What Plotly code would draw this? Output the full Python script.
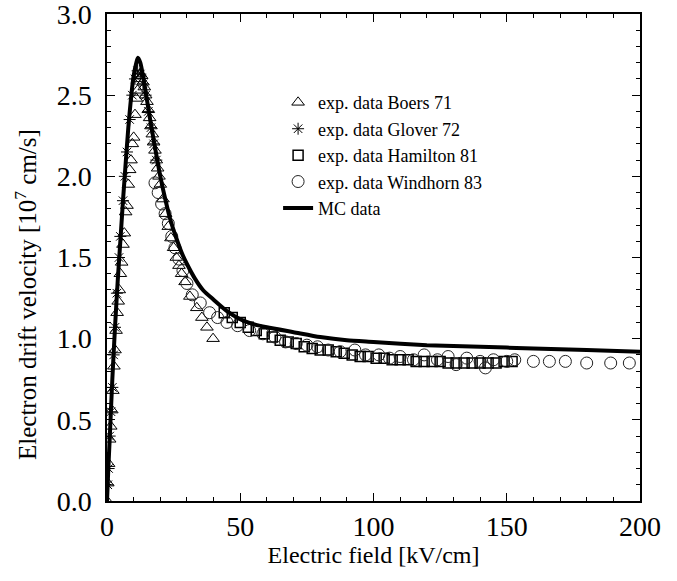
import plotly.graph_objects as go

# MC simulation curve
mc_x = [0, 0.5, 1, 2, 3, 4, 5, 6, 7, 8, 9, 10, 11, 11.6, 12.5, 13.5, 15, 16.5, 18, 20,
        22, 24, 26, 28, 30, 33, 36, 40, 45, 50, 55, 60, 70, 80, 90, 100, 120, 140, 160, 180, 200]
mc_y = [0, 0.2, 0.38, 0.75, 1.07, 1.35, 1.6, 1.85, 2.08, 2.3, 2.48, 2.62, 2.7, 2.73, 2.7, 2.62, 2.47, 2.32, 2.18, 2.0,
        1.85, 1.72, 1.62, 1.53, 1.46, 1.37, 1.3, 1.24, 1.17, 1.12, 1.09, 1.07, 1.04, 1.01, 0.99, 0.98, 0.96, 0.95, 0.94, 0.93, 0.92]

# Boers 71 (triangles)
boers_x = [0, 0.3, 0.6, 1.0, 1.4, 1.8, 2.2, 2.6, 3.0, 3.4, 3.8, 4.2, 4.6, 5.0, 5.5, 6.0, 6.5, 7.0, 7.5, 8.0,
           8.5, 9.0, 9.5, 10.0, 10.5, 11.0, 11.5, 12.0, 12.5, 13.0, 13.5, 14.0, 14.5, 15.0, 15.5, 16.0, 16.5,
           17.0, 17.5, 18.0, 18.5, 19.0, 19.5, 20.0, 21.0, 22.0, 23.0, 24.0, 25.0, 26.0, 27.0, 28.0, 29.3,
           31.1, 33.7, 35.6, 37.5, 39.8]
boers_y = [0.0, 0.11, 0.23, 0.38, 0.46, 0.56, 0.68, 0.83, 0.93, 1.05, 1.16, 1.23, 1.30, 1.40, 1.47, 1.58, 1.65,
           1.78, 1.82, 1.95, 2.04, 2.10, 2.20, 2.24, 2.38, 2.48, 2.53, 2.60, 2.63, 2.62, 2.58, 2.55, 2.50, 2.46,
           2.41, 2.36, 2.31, 2.26, 2.21, 2.16, 2.10, 2.05, 2.00, 1.95, 1.86, 1.77, 1.69, 1.62, 1.56, 1.50, 1.45,
           1.40, 1.35, 1.26, 1.19, 1.13, 1.07, 1.00]

# Glover 72 (asterisks)
glover_x = [0.3, 0.6, 1.0, 1.5, 2.0, 2.5, 3.0, 3.7, 4.5, 5.0, 6.0, 6.7, 7.5, 8.5, 9.5, 10.5, 11.5, 12.5,
            13.5, 14.5, 15.5, 16.5, 17.5, 18.5]
glover_y = [0.1, 0.2, 0.4, 0.55, 0.7, 0.9, 1.07, 1.28, 1.5, 1.63, 1.85, 2.0, 2.15, 2.35, 2.5, 2.6, 2.65, 2.63,
            2.57, 2.5, 2.4, 2.3, 2.2, 2.1]

# Hamilton 81 (squares)
hamilton_x = [44, 47, 50, 53, 56, 59, 62, 65, 68, 71, 74, 77, 80, 83, 86, 89, 92, 95, 98, 101, 104, 107,
              110, 113, 116, 119, 122, 125, 128, 131, 134, 137, 140, 143, 146, 149, 152]
hamilton_y = [1.16, 1.13, 1.10, 1.07, 1.05, 1.03, 1.01, 0.99, 0.98, 0.97, 0.95, 0.94, 0.93, 0.93, 0.92, 0.91,
              0.90, 0.89, 0.89, 0.88, 0.88, 0.87, 0.87, 0.87, 0.86, 0.86, 0.86, 0.86, 0.85, 0.85, 0.85, 0.85,
              0.85, 0.85, 0.85, 0.86, 0.86]

# Windhorn 83 (circles)
windhorn_x = [18, 19.2, 20.5, 21.8, 23, 24.3, 25.5, 27, 28.5, 30, 32, 35, 38.5, 41.5, 45, 49, 53.5, 58.5,
              63, 67, 71, 75, 79, 83, 87.5, 93, 97, 102, 106, 110, 115, 119, 124, 128, 131, 135, 140, 142,
              145, 150, 153, 160, 166, 172, 180, 189, 196]
windhorn_y = [1.96, 1.90, 1.83, 1.77, 1.71, 1.63, 1.56, 1.49, 1.42, 1.34, 1.27, 1.22, 1.16, 1.13, 1.10, 1.08,
              1.05, 1.03, 1.01, 0.98, 0.97, 0.96, 0.95, 0.93, 0.92, 0.93, 0.90, 0.90, 0.88, 0.89, 0.87, 0.90,
              0.87, 0.89, 0.84, 0.88, 0.86, 0.82, 0.87, 0.86, 0.87, 0.86, 0.86, 0.86, 0.85, 0.85, 0.85]

y_title = "Electron drift velocity [10<sup>7</sup> cm/s]"
x_title = "Electric field [kV/cm]"

FONT = "Liberation Serif, Times New Roman, serif"

fig = go.Figure()
fig.add_trace(go.Scatter(x=boers_x, y=boers_y, mode="markers", name="exp. data Boers 71",
                         marker=dict(symbol="triangle-up-open", color="black", size=11,
                                     line=dict(color="black", width=1))))
fig.add_trace(go.Scatter(x=glover_x, y=glover_y, mode="markers", name="exp. data Glover 72",
                         marker=dict(symbol="asterisk-open", color="black", size=10,
                                     line=dict(color="black", width=1))))
fig.add_trace(go.Scatter(x=hamilton_x, y=hamilton_y, mode="markers", name="exp. data Hamilton 81",
                         marker=dict(symbol="square-open", color="black", size=10,
                                     line=dict(color="black", width=1.5))))
fig.add_trace(go.Scatter(x=windhorn_x, y=windhorn_y, mode="markers", name="exp. data Windhorn 83",
                         marker=dict(symbol="circle-open", color="#222", size=12,
                                     line=dict(color="#222", width=1))))
fig.add_trace(go.Scatter(x=mc_x, y=mc_y, mode="lines", name="MC data",
                         line=dict(color="black", width=4, shape="spline", smoothing=0.6)))

axis_common = dict(showline=True, linecolor="black", linewidth=1.5, mirror="ticks",
                   ticks="inside", ticklen=8, tickwidth=1.2, tickcolor="black",
                   showgrid=False, zeroline=False, automargin=False,
                   ticklabeloverflow="allow",
                   tickfont=dict(family=FONT, size=28, color="black"))
fig.update_xaxes(range=[0, 200], dtick=50, tick0=0,
                 minor=dict(dtick=10, ticks="inside", ticklen=4, tickcolor="black", tickwidth=1),
                 title=dict(text=x_title, font=dict(family=FONT, size=24, color="black"),
                            standoff=2),
                 **axis_common)
fig.update_yaxes(range=[0, 3.0], dtick=0.5, tick0=0, tickformat=".1f", ticklabelstandoff=8,
                 minor=dict(dtick=0.1, ticks="inside", ticklen=4, tickcolor="black", tickwidth=1),
                 **axis_common)
fig.add_annotation(text=y_title, textangle=-90, xref="paper", yref="paper",
                   x=-0.152, y=0.425, xanchor="center", yanchor="middle", showarrow=False,
                   font=dict(family=FONT, size=25, color="black"))
fig.update_layout(
    width=677, height=581,
    margin=dict(l=107, r=37, t=14, b=80, autoexpand=False),
    plot_bgcolor="white", paper_bgcolor="white",
    font=dict(family=FONT, color="black"),
    legend=dict(x=0.321, y=0.856, xanchor="left", yanchor="top", bgcolor="rgba(0,0,0,0)",
                font=dict(family=FONT, size=18, color="black"), tracegroupgap=0, itemwidth=30),
)
fig.write_html("out.html", config={"displayModeBar": False},
               post_script="document.body.style.margin='0';")
